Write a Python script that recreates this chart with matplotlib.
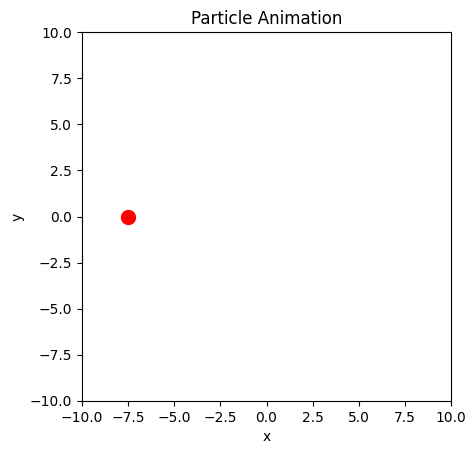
import matplotlib
matplotlib.use("Agg")
import matplotlib.pyplot as plt

px = [-7.5]
py = [0.0]

fig = plt.figure(figsize=(4.76, 4.55), dpi=100)
ax = fig.add_axes([82/476, 1-401/455, 369/476, 369/455])
ax.plot(px, py, 'o', color='red', markersize=10)
ax.set_xlim(-10, 10)
ax.set_ylim(-10, 10)
ax.set_xlabel('x')
ax.set_ylabel('y')
ax.set_title('Particle Animation')
fig.savefig('out.png', dpi=100)
